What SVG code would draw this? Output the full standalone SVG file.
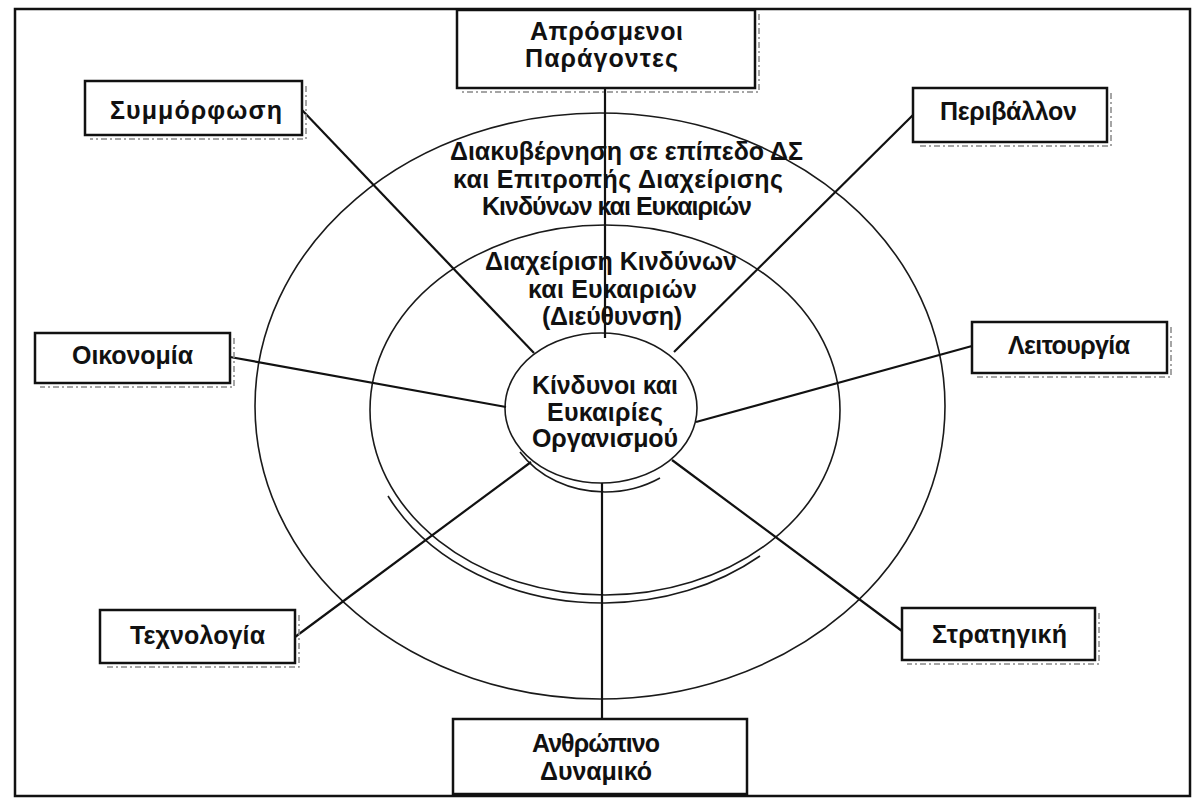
<svg xmlns="http://www.w3.org/2000/svg" width="1195" height="803" viewBox="0 0 1195 803">
<style>
.frame{fill:none;stroke:#111;stroke-width:2.5}
.box{fill:#fff;stroke:#111;stroke-width:2.5}
.shadow{fill:none;stroke:#888;stroke-width:1.5;stroke-dasharray:6 3 2 3}
.ring{fill:none;stroke:#1a1a1a;stroke-width:1.6}
.ring2{fill:none;stroke:#1a1a1a;stroke-width:1.6}
.conn{stroke:#111;stroke-width:2.2;fill:none}
.t{font-family:"Liberation Sans",Arial,sans-serif;font-weight:bold;font-size:25px;fill:#111;text-anchor:start}
</style>
<rect x="0" y="0" width="1195" height="803" fill="#fff"/>
<rect class="frame" x="15" y="9" width="1175" height="787"/>

<g id="rings">
  <ellipse class="ring" cx="600" cy="406" rx="345" ry="293"/>
  <ellipse class="ring" cx="605" cy="410" rx="235" ry="185"/>
  <path class="ring2" d="M 388 496 A 240 193 0 0 0 605 603 A 240 193 0 0 0 760 556"/>
  <ellipse class="ring" cx="601" cy="408" rx="96" ry="75"/>
  <path class="ring2" d="M 520 452 A 100 84 0 0 0 605 492 A 100 84 0 0 0 660 478"/>
</g>

<g id="connectors">
  <line class="conn" x1="605" y1="88" x2="605" y2="338"/>
  <line class="conn" x1="302" y1="110" x2="534" y2="353"/>
  <line class="conn" x1="913" y1="115" x2="674" y2="352"/>
  <line class="conn" x1="230" y1="357" x2="506" y2="407"/>
  <line class="conn" x1="972" y1="346" x2="696" y2="422"/>
  <line class="conn" x1="295" y1="637" x2="531" y2="462"/>
  <line class="conn" x1="902" y1="631" x2="672" y2="460"/>
  <line class="conn" x1="602" y1="483" x2="602" y2="719"/>
</g>

<g id="labels">
  <text class="t" x="450" y="160" textLength="353">Διακυβέρνηση σε επίπεδο ΔΣ</text>
  <text class="t" x="453" y="188" textLength="330">και Επιτροπής Διαχείρισης</text>
  <text class="t" x="482" y="215" textLength="270">Κινδύνων και Ευκαιριών</text>
  <text class="t" x="485" y="270" textLength="252">Διαχείριση Κινδύνων</text>
  <text class="t" x="528" y="298" textLength="169">και Ευκαιριών</text>
  <text class="t" x="542" y="325" textLength="140">(Διεύθυνση)</text>
</g>

<g id="node-center">
  <text class="t" x="532" y="394" textLength="146">Κίνδυνοι και</text>
  <text class="t" x="547" y="421" textLength="116">Ευκαιρίες</text>
  <text class="t" x="532" y="447" textLength="146">Οργανισμού</text>
</g>

<g id="node-aprosmenoi">
  <polyline class="shadow" points="759,14 759,92 462,92"/>
  <rect class="box" x="457" y="10" width="298" height="78"/>
  <text class="t" x="530" y="40" textLength="153">Απρόσμενοι</text>
  <text class="t" x="525" y="67" textLength="153">Παράγοντες</text>
</g>

<g id="node-symmorfosi">
  <polyline class="shadow" points="306,86 306,139 90,139"/>
  <rect class="box" x="85" y="81" width="217" height="54"/>
  <text class="t" x="110" y="119" textLength="172">Συμμόρφωση</text>
</g>

<g id="node-perivallon">
  <polyline class="shadow" points="1111,93 1111,146 918,146"/>
  <rect class="box" x="913" y="88" width="194" height="54"/>
  <text class="t" x="940" y="120" textLength="137">Περιβάλλον</text>
</g>

<g id="node-oikonomia">
  <polyline class="shadow" points="234,338 234,387 40,387"/>
  <rect class="box" x="35" y="333" width="195" height="50"/>
  <text class="t" x="72" y="364" textLength="121">Οικονομία</text>
</g>

<g id="node-leitourgia">
  <polyline class="shadow" points="1171,327 1171,377 977,377"/>
  <rect class="box" x="972" y="322" width="195" height="51"/>
  <text class="t" x="1008" y="354" textLength="122">Λειτουργία</text>
</g>

<g id="node-technologia">
  <polyline class="shadow" points="299,615 299,667 105,667"/>
  <rect class="box" x="100" y="610" width="195" height="53"/>
  <text class="t" x="130" y="644" textLength="135">Τεχνολογία</text>
</g>

<g id="node-stratigiki">
  <polyline class="shadow" points="1099,613 1099,664 907,664"/>
  <rect class="box" x="902" y="608" width="193" height="52"/>
  <text class="t" x="932" y="643" textLength="135">Στρατηγική</text>
</g>

<g id="node-anthropino">
  <rect class="box" x="453" y="719" width="294" height="75"/>
  <text class="t" x="532" y="752" textLength="128">Ανθρώπινο</text>
  <text class="t" x="540" y="780" textLength="112">Δυναμικό</text>
</g>
</svg>
